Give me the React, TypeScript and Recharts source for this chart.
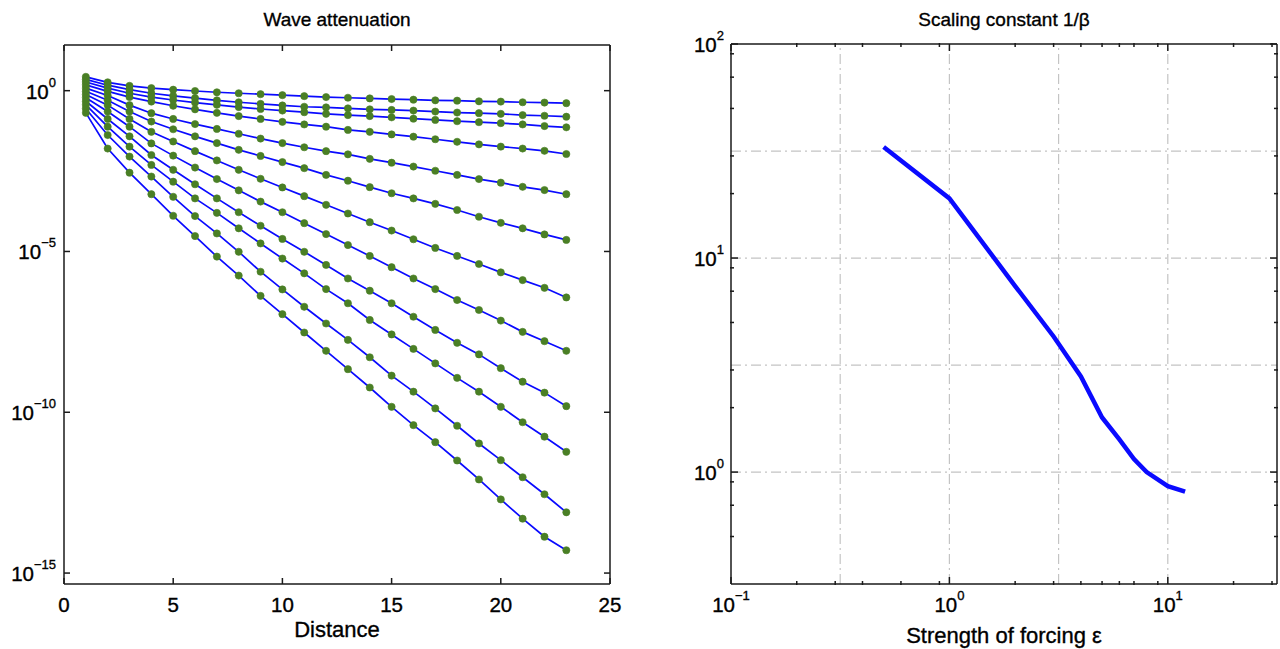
import React from 'react';
import { LineChart, Line, XAxis, YAxis, ReferenceLine } from 'recharts';

// Distances where the amplitude is sampled (left panel)
const distance = [1, 2, 3, 4, 5, 6, 7, 8, 9, 10, 11, 12, 13, 14, 15, 16, 17, 18, 19, 20, 21, 22, 23];

// log10 of the wave amplitude, one array per curve
const wave01 = [0.43, 0.26, 0.15, 0.08, 0.03, -0.01, -0.05, -0.08, -0.11, -0.14, -0.17, -0.2, -0.22, -0.24, -0.26, -0.28, -0.3, -0.31, -0.33, -0.34, -0.36, -0.37, -0.39];
const wave02 = [0.35, 0.17, 0.03, -0.08, -0.16, -0.23, -0.3, -0.36, -0.41, -0.46, -0.5, -0.52, -0.55, -0.58, -0.6, -0.62, -0.65, -0.68, -0.7, -0.72, -0.76, -0.78, -0.81];
const wave03 = [0.27, 0.08, -0.08, -0.2, -0.29, -0.37, -0.44, -0.51, -0.57, -0.62, -0.67, -0.72, -0.76, -0.79, -0.83, -0.87, -0.91, -0.95, -0.98, -1.01, -1.05, -1.1, -1.14];
const wave04 = [0.18, -0.02, -0.2, -0.34, -0.47, -0.58, -0.69, -0.79, -0.88, -0.97, -1.05, -1.12, -1.22, -1.28, -1.36, -1.43, -1.51, -1.59, -1.67, -1.74, -1.8, -1.87, -1.97];
const wave05 = [0.08, -0.15, -0.45, -0.7, -0.88, -1.04, -1.19, -1.34, -1.49, -1.63, -1.76, -1.88, -1.98, -2.12, -2.24, -2.36, -2.49, -2.62, -2.75, -2.86, -2.99, -3.09, -3.22];
const wave06 = [-0.02, -0.3, -0.65, -0.96, -1.2, -1.42, -1.63, -1.84, -2.03, -2.22, -2.41, -2.62, -2.8, -3.0, -3.19, -3.35, -3.52, -3.71, -3.92, -4.11, -4.28, -4.47, -4.64];
const wave07 = [-0.12, -0.45, -0.88, -1.28, -1.58, -1.88, -2.17, -2.46, -2.74, -3.01, -3.28, -3.55, -3.82, -4.09, -4.35, -4.62, -4.89, -5.14, -5.39, -5.65, -5.89, -6.13, -6.43];
const wave08 = [-0.22, -0.65, -1.12, -1.64, -2.02, -2.39, -2.75, -3.1, -3.45, -3.78, -4.12, -4.46, -4.8, -5.14, -5.49, -5.84, -6.17, -6.51, -6.82, -7.15, -7.5, -7.79, -8.09];
const wave09 = [-0.33, -0.88, -1.42, -2.0, -2.46, -2.91, -3.35, -3.78, -4.2, -4.61, -5.01, -5.42, -5.84, -6.22, -6.61, -7.03, -7.44, -7.84, -8.2, -8.63, -9.05, -9.39, -9.81];
const wave10 = [-0.44, -1.12, -1.74, -2.31, -2.83, -3.35, -3.8, -4.28, -4.75, -5.22, -5.68, -6.17, -6.61, -7.13, -7.58, -8.03, -8.48, -8.93, -9.36, -9.83, -10.31, -10.76, -11.23];
const wave11 = [-0.56, -1.38, -2.05, -2.67, -3.3, -3.9, -4.44, -5.01, -5.63, -6.18, -6.72, -7.24, -7.75, -8.29, -8.86, -9.36, -9.88, -10.42, -10.97, -11.49, -12.02, -12.55, -13.11];
const wave12 = [-0.69, -1.8, -2.55, -3.22, -3.89, -4.52, -5.16, -5.75, -6.38, -6.95, -7.52, -8.09, -8.66, -9.23, -9.83, -10.4, -10.93, -11.5, -12.09, -12.71, -13.31, -13.87, -14.29];

// Right panel: forcing strength and scaling constant 1/beta
const forcing = [0.5, 1, 2, 3, 4, 5, 6, 7, 8, 10, 12];
const scaling = [33, 19, 7.4, 4.3, 2.8, 1.8, 1.42, 1.15, 1.0, 0.86, 0.81];

// tick values
const distanceTicks = [0, 5, 10, 15, 20, 25];
const waveTicks = [1e-15, 1e-10, 1e-5, 1];
const forcingTicks = [0.1, 1, 10];
const forcingMinor = [0.2, 0.3, 0.4, 0.5, 0.6, 0.7, 0.8, 0.9, 2, 3, 4, 5, 6, 7, 8, 9, 20, 30];
const scalingTicks = [1, 10, 100];
const scalingMinor = [0.4, 0.5, 0.6, 0.7, 0.8, 0.9, 2, 3, 4, 5, 6, 7, 8, 9, 20, 30, 40, 50, 60, 70, 80, 90];
const forcingGrid = [0.3162, 1, 3.162, 10];
const scalingGrid = [1, 3.162, 10, 31.62];

const waveSeries = [wave01, wave02, wave03, wave04, wave05, wave06, wave07, wave08, wave09, wave10, wave11, wave12];
const waveRows = distance.map((d, i) => {
  const row: { [key: string]: number } = { d };
  waveSeries.forEach((s, k) => {
    row[`w${k}`] = Math.pow(10, s[i]);
  });
  return row;
});
const scalingRows = forcing.map((eps, i) => ({ eps, inv: scaling[i] }));

const FONT = '"Liberation Sans", Arial, Helvetica, sans-serif';
const AXIS = { stroke: '#1a1a1a', strokeWidth: 1.5 };
const BLUE = '#0a0aff';
const GREEN = '#4a7f25';
const WAVE_DOMAIN = [Math.pow(10, -15.34), Math.pow(10, 1.42)];
const TXT = { fontFamily: FONT, fill: '#000', stroke: '#000', strokeWidth: 0.35 };

const Empty = () => <g />;

// "10^n" style labels
const PowerTick = (props: any) => {
  const { x, y, payload, side } = props;
  const e = Math.round(Math.log10(payload.value));
  const sup = e < 0 ? '\u2212' + Math.abs(e) : String(e);
  if (side === 'left') {
    return (
      <text x={x - 14} y={y + 8} textAnchor="end" fontSize={20.5} {...TXT}>
        10<tspan dy={-12} fontSize={13}>{sup}</tspan>
      </text>
    );
  }
  return (
    <text x={x} y={y + 35} textAnchor="middle" fontSize={20.5} {...TXT}>
      10<tspan dy={-12} fontSize={13}>{sup}</tspan>
    </text>
  );
};

const PlainTick = (props: any) => {
  const { x, y, payload } = props;
  return (
    <text x={x} y={y + 34} textAnchor="middle" fontSize={20.5} {...TXT}>
      {payload.value}
    </text>
  );
};

const label = (text: string, left: number, top: number, size: number) => (
  <div
    style={{
      position: 'absolute',
      left: left - 200,
      top,
      width: 400,
      textAlign: 'center',
      fontFamily: FONT,
      fontSize: size,
      lineHeight: `${size + 4}px`,
      color: '#000',
      WebkitTextStroke: '0.35px #000',
    }}
  >
    {text}
  </div>
);

const WavePanel = () => (
  <LineChart width={640} height={649} data={waveRows} margin={{ top: 44, right: 29, bottom: 64, left: 63 }}>
    <XAxis xAxisId="b" dataKey="d" type="number" domain={[0, 25]} ticks={distanceTicks} allowDataOverflow
      height={1} tickSize={-6} tickMargin={0} axisLine={AXIS} tickLine={AXIS} tick={<PlainTick />} />
    <XAxis xAxisId="t" dataKey="d" type="number" orientation="top" domain={[0, 25]} ticks={distanceTicks} allowDataOverflow
      height={1} tickSize={-6} axisLine={AXIS} tickLine={AXIS} tick={<Empty />} />
    <YAxis yAxisId="l" type="number" scale="log" domain={WAVE_DOMAIN} ticks={waveTicks}
      allowDataOverflow width={1} tickSize={-6} tickMargin={0} axisLine={AXIS} tickLine={AXIS} tick={<PowerTick side="left" />} />
    <YAxis yAxisId="r" orientation="right" type="number" scale="log" domain={WAVE_DOMAIN}
      ticks={waveTicks} allowDataOverflow width={1} tickSize={-6} axisLine={AXIS} tickLine={AXIS} tick={<Empty />} />
    {waveSeries.map((_, k) => (
      <Line key={`l${k}`} xAxisId="b" yAxisId="l" dataKey={`w${k}`} type="linear" stroke={BLUE} strokeWidth={1.7}
        dot={false} isAnimationActive={false} />
    ))}
    {waveSeries.map((_, k) => (
      <Line key={`m${k}`} xAxisId="b" yAxisId="l" dataKey={`w${k}`} type="linear" stroke="none"
        dot={{ r: 3.6, fill: GREEN, stroke: GREEN, strokeWidth: 0.6 }} isAnimationActive={false} />
    ))}
  </LineChart>
);

const ScalingPanel = () => (
  <LineChart width={640} height={649} data={scalingRows} margin={{ top: 42, right: 1, bottom: 63, left: 89 }}>
    <XAxis xAxisId="b" dataKey="eps" type="number" scale="log" domain={[0.1, 31.62]} ticks={forcingTicks} allowDataOverflow
      height={1} tickSize={-7} tickMargin={0} axisLine={AXIS} tickLine={AXIS} tick={<PowerTick side="bottom" />} />
    <XAxis xAxisId="t" dataKey="eps" type="number" scale="log" orientation="top" domain={[0.1, 31.62]} ticks={forcingTicks}
      allowDataOverflow height={1} tickSize={-7} axisLine={AXIS} tickLine={AXIS} tick={<Empty />} />
    <XAxis xAxisId="bm" dataKey="eps" type="number" scale="log" domain={[0.1, 31.62]} ticks={forcingMinor} allowDataOverflow
      height={1} tickSize={-4} axisLine={false} tickLine={AXIS} tick={<Empty />} />
    <XAxis xAxisId="tm" dataKey="eps" type="number" scale="log" orientation="top" domain={[0.1, 31.62]} ticks={forcingMinor}
      allowDataOverflow height={1} tickSize={-4} axisLine={false} tickLine={AXIS} tick={<Empty />} />
    <YAxis yAxisId="l" type="number" scale="log" domain={[0.3, 100]} ticks={scalingTicks} allowDataOverflow width={1}
      tickSize={-7} tickMargin={0} axisLine={AXIS} tickLine={AXIS} tick={<PowerTick side="left" />} />
    <YAxis yAxisId="r" orientation="right" type="number" scale="log" domain={[0.3, 100]} ticks={scalingTicks}
      allowDataOverflow width={1} tickSize={-7} axisLine={AXIS} tickLine={AXIS} tick={<Empty />} />
    <YAxis yAxisId="lm" type="number" scale="log" domain={[0.3, 100]} ticks={scalingMinor} allowDataOverflow width={1}
      tickSize={-4} axisLine={false} tickLine={AXIS} tick={<Empty />} />
    <YAxis yAxisId="rm" orientation="right" type="number" scale="log" domain={[0.3, 100]} ticks={scalingMinor}
      allowDataOverflow width={1} tickSize={-4} axisLine={false} tickLine={AXIS} tick={<Empty />} />
    {forcingGrid.map((v) => (
      <ReferenceLine key={`gx${v}`} xAxisId="b" yAxisId="l" x={v} stroke="#c4c4c4" strokeWidth={1.2}
        strokeDasharray="10 4 2 4" />
    ))}
    {scalingGrid.map((v) => (
      <ReferenceLine key={`gy${v}`} xAxisId="b" yAxisId="l" y={v} stroke="#c4c4c4" strokeWidth={1.2}
        strokeDasharray="10 4 2 4" />
    ))}
    <Line xAxisId="b" yAxisId="l" dataKey="inv" type="linear" stroke={BLUE} strokeWidth={4.5} dot={false}
      isAnimationActive={false} />
  </LineChart>
);

export default function App() {
  return (
    <div style={{ position: 'absolute', left: 0, top: 0, width: 1280, height: 649, background: '#fff', overflow: 'hidden' }}>
      <div style={{ position: 'absolute', left: 0, top: 0 }}>
        <WavePanel />
      </div>
      <div style={{ position: 'absolute', left: 640, top: 0 }}>
        <ScalingPanel />
      </div>
      {label('Wave attenuation', 337, 8, 19)}
      {label('Scaling constant 1/\u03b2', 1004, 8, 19)}
      {label('Distance', 337, 617, 22)}
      {label('Strength of forcing \u03b5', 1004, 623, 22)}
    </div>
  );
}
